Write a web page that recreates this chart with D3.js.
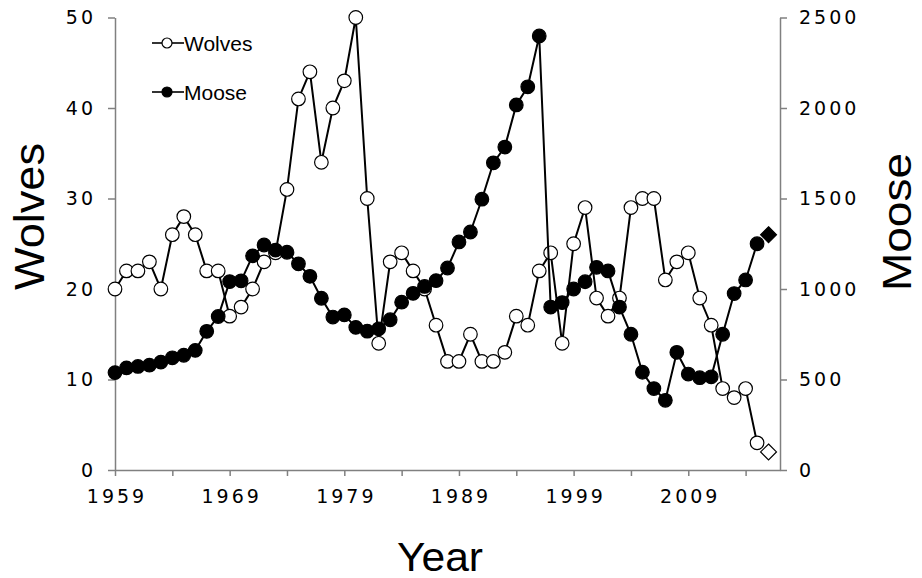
<!DOCTYPE html>
<html>
<head>
<meta charset="utf-8">
<script src="https://cdn.jsdelivr.net/npm/d3@7"></script>
<style>
  html, body { margin: 0; padding: 0; background: #fff; }
  svg { display: block; }
</style>
</head>
<body>
<svg id="chart" width="922" height="578"></svg>
<script>
const years = [1959,1960,1961,1962,1963,1964,1965,1966,1967,1968,
  1969,1970,1971,1972,1973,1974,1975,1976,1977,1978,
  1979,1980,1981,1982,1983,1984,1985,1986,1987,1988,
  1989,1990,1991,1992,1993,1994,1995,1996,1997,1998,
  1999,2000,2001,2002,2003,2004,2005,2006,2007,2008,
  2009,2010,2011,2012,2013,2014,2015,2016];
const wolves = [20,22,22,23,20,26,28,26,22,22,
  17,18,20,23,24,31,41,44,34,40,
  43,50,30,14,23,24,22,20,16,12,
  12,15,12,12,13,17,16,22,24,14,
  25,29,19,17,19,29,30,30,21,23,
  24,19,16,9,8,9,3,2];
const moose = [538,564,572,579,596,620,634,661,766,848,
  1041,1045,1183,1243,1215,1203,1139,1070,949,845,
  857,788,767,780,830,927,976,1014,1046,1116,
  1260,1315,1496,1697,1784,2017,2117,2398,900,925,
  1000,1040,1120,1100,900,750,540,450,385,650,
  530,510,515,750,975,1050,1250,1300];
const xTicks = [1959,1964,1969,1974,1979,1984,1989,1994,1999,2004,2009,2014];
const xLabels = [1959,1969,1979,1989,1999,2009];
const wolfTicks = [0,10,20,30,40,50];
const mooseTicks = [0,500,1000,1500,2000,2500];
const seriesNames = ["Wolves","Moose"];

const svg = d3.select("#chart");
const x = d3.scaleLinear().domain([1959, 2017]).range([115, 780]);
const yW = d3.scaleLinear().domain([0, 50]).range([470, 17.5]);
const yM = d3.scaleLinear().domain([0, 2500]).range([470, 17.5]);

const axisColor = "#808080";
const tickFont = "DejaVu Sans, Verdana, sans-serif";
const titleFont = "Liberation Sans, Arial, Helvetica, sans-serif";

function styleAxis(g) {
  g.attr("font-family", null).attr("font-size", null);
  g.selectAll("path.domain").attr("stroke", axisColor).attr("stroke-width", 1.5);
  g.selectAll(".tick line").attr("stroke", axisColor).attr("stroke-width", 1.5);
  g.selectAll(".tick text").attr("fill", "#000")
    .style("font-family", tickFont).style("font-size", "19px")
    .style("letter-spacing", "3px");
}

// X axis
const gx = svg.append("g").attr("transform", "translate(0,470)")
  .call(d3.axisBottom(x).tickValues(xTicks).tickSize(6).tickSizeOuter(0).tickPadding(14)
    .tickFormat(d => xLabels.includes(d) ? String(d) : ""));
styleAxis(gx);
gx.selectAll(".tick text").attr("dx", 1.5);

// Left axis
const gl = svg.append("g").attr("transform", "translate(115,0)")
  .call(d3.axisLeft(yW).tickValues(wolfTicks).tickSize(7).tickSizeOuter(0).tickPadding(12)
    .tickFormat(d3.format("d")));
styleAxis(gl);

// Right axis
const gr = svg.append("g").attr("transform", "translate(780,0)")
  .call(d3.axisRight(yM).tickValues(mooseTicks).tickSize(7).tickSizeOuter(0).tickPadding(12)
    .tickFormat(d3.format("d")));
styleAxis(gr);

// Axis titles
svg.append("text").text("Wolves")
  .attr("transform", "translate(44,216.5) rotate(-90)")
  .attr("text-anchor", "middle")
  .attr("textLength", 147).attr("lengthAdjust", "spacingAndGlyphs")
  .attr("font-family", titleFont).attr("font-size", 43);
svg.append("text").text("Moose")
  .attr("transform", "translate(911,222) rotate(-90)")
  .attr("text-anchor", "middle")
  .attr("textLength", 138).attr("lengthAdjust", "spacingAndGlyphs")
  .attr("font-family", titleFont).attr("font-size", 40);
svg.append("text").text("Year")
  .attr("x", 440).attr("y", 571)
  .attr("text-anchor", "middle")
  .attr("textLength", 86).attr("lengthAdjust", "spacingAndGlyphs")
  .attr("font-family", titleFont).attr("font-size", 40);

// Data series
const n = years.length;
const lineYears = years.slice(0, n - 1);
function drawSeries(vals, yScale, fill) {
  const pts = lineYears.map((yr, i) => [yr, vals[i]]);
  svg.append("path").datum(pts)
    .attr("fill", "none").attr("stroke", "#000").attr("stroke-width", 2)
    .attr("d", d3.line().x(d => x(d[0])).y(d => yScale(d[1])));
  svg.append("g").selectAll("circle").data(pts).join("circle")
    .attr("cx", d => x(d[0])).attr("cy", d => yScale(d[1])).attr("r", 6.8)
    .attr("fill", fill).attr("stroke", "#000").attr("stroke-width", 1.2);
  const last = [years[n - 1], vals[n - 1]];
  svg.append("path")
    .attr("d", d3.symbol(d3.symbolDiamond2, 160)())
    .attr("transform", `translate(${x(last[0])},${yScale(last[1])})`)
    .attr("fill", fill).attr("stroke", "#000").attr("stroke-width", 1.2);
}
drawSeries(wolves, yW, "#fff");
drawSeries(moose, yM, "#000");

// Legend
const legend = [{name: seriesNames[0], fill: "#fff", y: 43}, {name: seriesNames[1], fill: "#000", y: 92}];
legend.forEach(l => {
  svg.append("line").attr("x1", 152).attr("x2", 184).attr("y1", l.y).attr("y2", l.y)
    .attr("stroke", "#000").attr("stroke-width", 1.6);
  svg.append("circle").attr("cx", 167).attr("cy", l.y).attr("r", 5)
    .attr("fill", l.fill).attr("stroke", "#000").attr("stroke-width", 1.2);
  svg.append("text").text(l.name).attr("x", 184).attr("y", l.y + 8)
    .attr("font-family", titleFont).attr("font-size", 21);
});
</script>
</body>
</html>
